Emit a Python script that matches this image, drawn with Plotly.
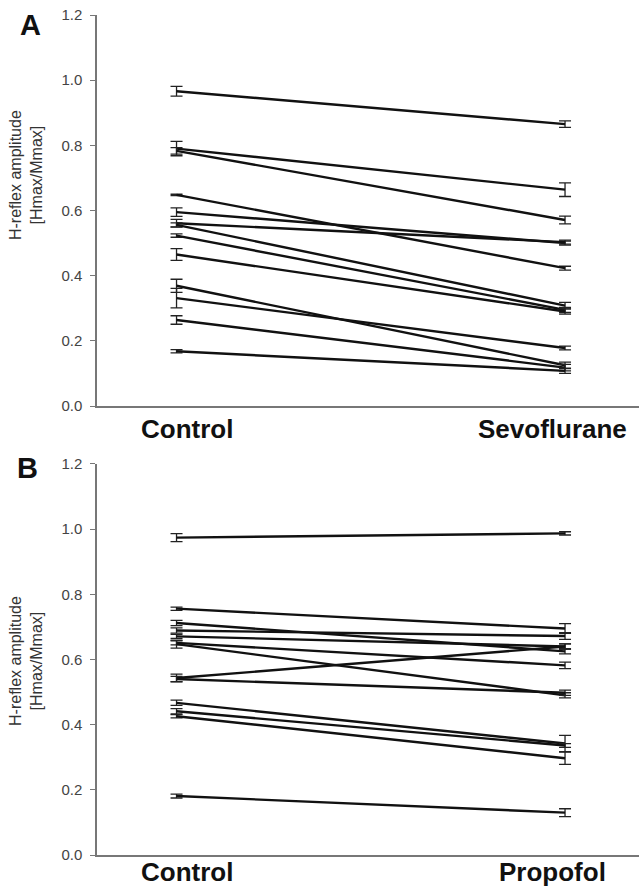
import plotly.graph_objects as go

# ---- data ----
conditions_A = ["Control", "Sevoflurane"]
control_A = [0.966, 0.790, 0.783, 0.648, 0.595, 0.561, 0.556, 0.523, 0.465, 0.369, 0.331, 0.264, 0.168]
sevo_A = [0.865, 0.664, 0.571, 0.423, 0.500, 0.503, 0.308, 0.295, 0.290, 0.125, 0.178, 0.118, 0.108]
control_A_err = [0.015, 0.022, 0.010, 0.002, 0.013, 0.012, 0.006, 0.005, 0.018, 0.020, 0.030, 0.013, 0.005]
sevo_A_err = [0.010, 0.021, 0.012, 0.006, 0.006, 0.006, 0.010, 0.008, 0.008, 0.010, 0.006, 0.010, 0.008]

conditions_B = ["Control", "Propofol"]
control_B = [0.974, 0.756, 0.712, 0.689, 0.671, 0.651, 0.647, 0.543, 0.540, 0.467, 0.441, 0.426, 0.181]
prop_B = [0.987, 0.695, 0.625, 0.672, 0.640, 0.582, 0.490, 0.640, 0.498, 0.342, 0.336, 0.297, 0.130]
control_B_err = [0.012, 0.005, 0.008, 0.008, 0.006, 0.006, 0.012, 0.012, 0.008, 0.008, 0.008, 0.005, 0.006]
prop_B_err = [0.005, 0.015, 0.008, 0.010, 0.008, 0.010, 0.008, 0.008, 0.008, 0.025, 0.006, 0.019, 0.012]

y_ticks = [0.0, 0.2, 0.4, 0.6, 0.8, 1.0, 1.2]
y_title = "H-reflex amplitude<br>[Hmax/Mmax]"

FONT = "Liberation Sans, Arial, sans-serif"
fig = go.Figure()

def add_panel(ctrl, treat, ectrl, etreat, xa, ya):
    for c, t, ec, et in zip(ctrl, treat, ectrl, etreat):
        fig.add_trace(go.Scatter(
            x=[0, 1], y=[c, t], mode="lines",
            line=dict(color="#111111", width=2.4),
            error_y=dict(type="data", array=[ec, et], visible=True,
                         color="#222222", thickness=1.3, width=6),
            xaxis=xa, yaxis=ya, showlegend=False, hoverinfo="skip"))

add_panel(control_A, sevo_A, control_A_err, sevo_A_err, "x", "y")
add_panel(control_B, prop_B, control_B_err, prop_B_err, "x2", "y2")

xr = [-0.2047, 1.1904]
xcommon = dict(range=xr, showline=True, linecolor="#777777", linewidth=1.5,
               showgrid=False, zeroline=False, showticklabels=False, ticks="")
ycommon = dict(range=[0, 1.2], tickvals=y_ticks, tickformat=".1f",
               showline=True, linecolor="#777777", linewidth=1.5,
               ticks="outside", ticklen=5, tickcolor="#777777", tickwidth=1.3,
               showgrid=False, zeroline=False, ticklabelstandoff=5,
               tickfont=dict(family=FONT, size=15, color="#444444"))

fig.update_layout(
    width=639, height=891,
    margin=dict(l=97, r=0, t=15, b=36),
    plot_bgcolor="white", paper_bgcolor="white",
    xaxis=dict(domain=[0, 1], anchor="y", **xcommon),
    yaxis=dict(domain=[0.5345, 1.0], anchor="x", **ycommon),
    xaxis2=dict(domain=[0, 1], anchor="y2", **xcommon),
    yaxis2=dict(domain=[0.0, 0.4655], anchor="x2", **ycommon),
)

ann = []
lab_font = dict(family=FONT, size=26, color="#111111")
for text, xp, yp in [("<b>Control</b>", 0.166, 0.5071), ("<b>Sevoflurane</b>", 0.8395, 0.5071)]:
    ann.append(dict(text=text, x=xp, y=yp, xref="paper", yref="paper",
                    xanchor="center", yanchor="middle", showarrow=False, font=lab_font))
for text, xp in [("<b>Control</b>", 0.166), ("<b>Propofol</b>", 0.841)]:
    ann.append(dict(text=text, x=xp, y=-0.0405, xref="paper", yref="paper",
                    xanchor="center", yanchor="bottom", showarrow=False, font=lab_font))
for text, xp, yp in [("<b>A</b>", -0.1218, 0.9875), ("<b>B</b>", -0.129, 0.4607)]:
    ann.append(dict(text=text, x=xp, y=yp, xref="paper", yref="paper",
                    xanchor="center", yanchor="middle", showarrow=False,
                    font=dict(family=FONT, size=29, color="#111111")))
for yp in [0.8095, 0.231]:
    ann.append(dict(text=y_title, x=-0.131, y=yp, xref="paper", yref="paper",
                    xanchor="center", yanchor="middle", textangle=-90, showarrow=False,
                    font=dict(family=FONT, size=16, color="#333333")))
fig.update_layout(annotations=ann)

fig.write_html("out.html", config={"displayModeBar": False},
               post_script="document.body.style.margin='0';document.body.style.overflow='hidden';")
